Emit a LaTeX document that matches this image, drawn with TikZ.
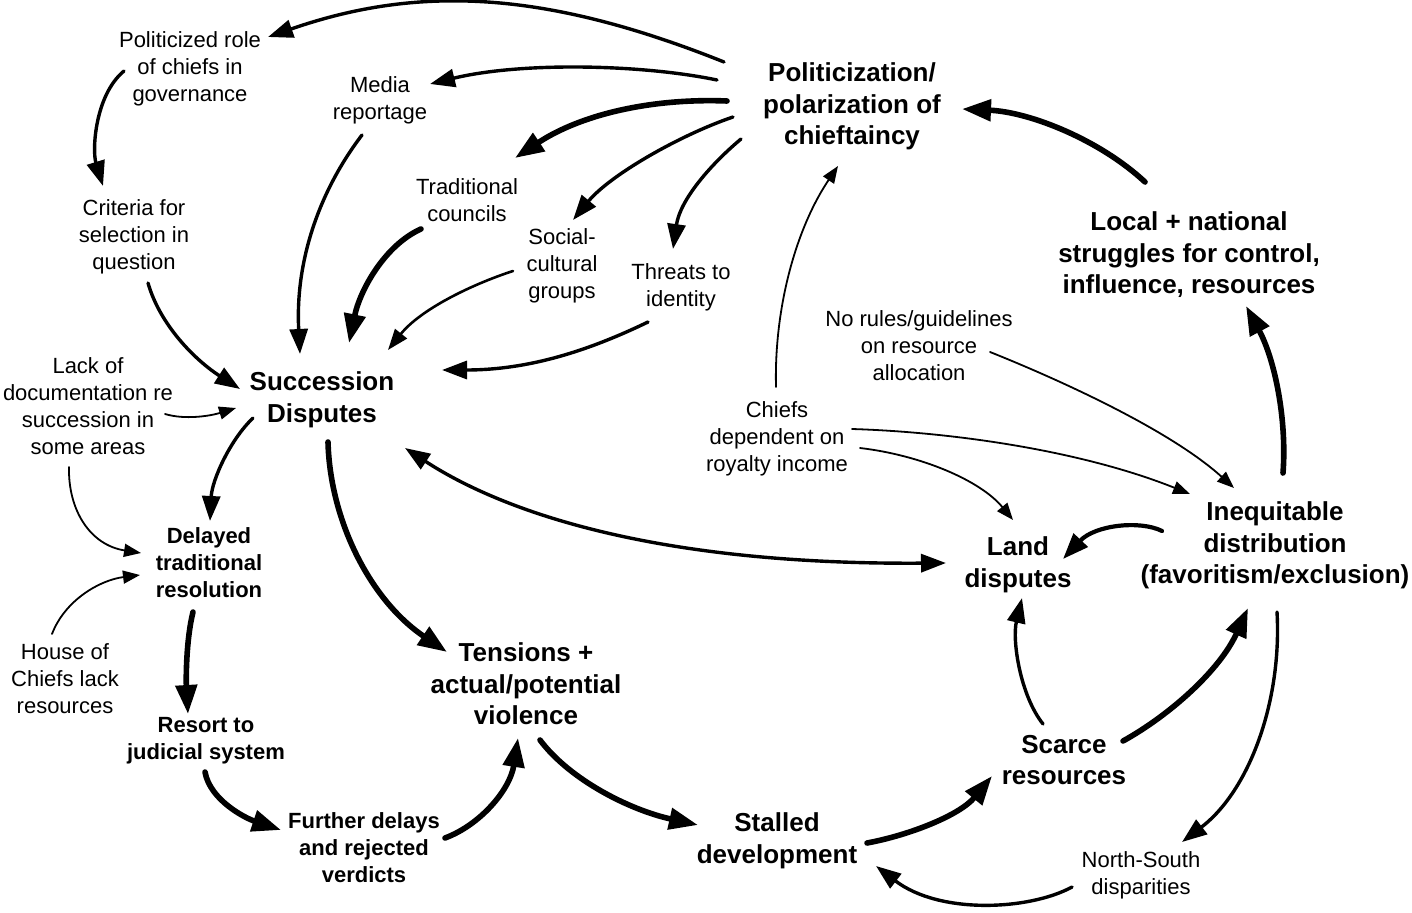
\documentclass[tikz,border=0pt]{standalone}
\usepackage{fontspec}
\setmainfont{Liberation Sans}
\usetikzlibrary{arrows.meta}
\tikzset{
  lbl/.style={align=center, inner sep=0pt, text depth=0pt, font=\fontsize{22}{27}\selectfont},
  bbig/.style={align=center, inner sep=0pt, text depth=0pt, font=\fontsize{26}{31.5}\selectfont\bfseries},
  bmid/.style={align=center, inner sep=0pt, text depth=0pt, font=\fontsize{22}{27}\selectfont\bfseries},
  cthin/.style={line width=1.8pt, line cap=round, -{Triangle[length=17pt,width=13pt]}},
  cmedthin/.style={line width=2.6pt, line cap=round, -{Triangle[length=21pt,width=15pt]}},
  cmed/.style={line width=3.4pt, line cap=round, -{Triangle[length=25pt,width=18pt]}},
  cmedthick/.style={line width=4.2pt, line cap=round, -{Triangle[length=26pt,width=19pt]}},
  cthick/.style={line width=5.6pt, line cap=round, -{Triangle[length=29pt,width=21pt]}},
}
\begin{document}
\begin{tikzpicture}[x=1pt,y=-1pt]
\fill[white] (0,0) rectangle (1412,912);
\useasboundingbox (0,0) rectangle (1412,912);

% nodes
\node[lbl] (polrole) at (190,67) {Politicized role\\of chiefs in\\governance};
\node[lbl] (media) at (380,98) {Media\\reportage};
\node[bbig] (pol) at (852,104) {Politicization/\\polarization of\\chieftaincy};
\node[lbl] (trad) at (467,200) {Traditional\\councils};
\node[lbl] (social) at (562,264) {Social-\\cultural\\groups};
\node[lbl] (threat) at (681,285) {Threats to\\identity};
\node[lbl] (criteria) at (134,235) {Criteria for\\selection in\\question};
\node[bbig] (succ) at (322,397) {Succession\\Disputes};
\node[lbl] (lack) at (88,406) {Lack of\\documentation re\\succession in\\some areas};
\node[bmid] (delayed) at (209,563) {Delayed\\traditional\\resolution};
\node[lbl] (house) at (65,679) {House of\\Chiefs lack\\resources};
\node[bmid] (resort) at (206,738) {Resort to\\judicial system};
\node[bmid] (further) at (364,848) {Further delays\\and rejected\\verdicts};
\node[bbig] (tension) at (526,684) {Tensions +\\actual/potential\\violence};
\node[bbig] (stalled) at (777,838) {Stalled\\development};
\node[bbig] (scarce) at (1064,760) {Scarce\\resources};
\node[lbl] (ns) at (1141,873) {North-South\\disparities};
\node[bbig] (land) at (1018,562) {Land\\disputes};
\node[bbig] (ineq) at (1275,543) {Inequitable\\distribution\\(favoritism/exclusion)};
\node[bbig] (local) at (1189,253) {Local + national\\struggles for control,\\influence, resources};
\node[lbl] (norules) at (919,346) {No rules/guidelines\\on resource\\allocation};
\node[lbl] (chiefs) at (777,437) {Chiefs\\dependent on\\royalty income};

% connectors from Politicization
\draw[cmed] ([shift={(-128,-42)}]pol.center) .. controls (544,-10) and (418,-15) .. ([shift={(78,-30)}]polrole.center);
\draw[cmed] ([shift={(-135,-24)}]pol.center) .. controls (640,64) and (520,62) .. ([shift={(50,-14)}]media.center);
\draw[cthick] ([shift={(-125,-3)}]pol.center) .. controls (650,98) and (580,115) .. ([shift={(48,-42)}]trad.center);
\draw[cmed] ([shift={(-119,13)}]pol.center) .. controls (680,135) and (610,175) .. ([shift={(11,-44)}]social.center);
\draw[cmed] ([shift={(-111,35)}]pol.center) .. controls (710,165) and (680,200) .. ([shift={(-8,-36)}]threat.center);

% left upper chain
\draw[cmed] ([shift={(-66,4)}]polrole.center) .. controls (95,95) and (92,150) .. ([shift={(-31,-49)}]criteria.center);
\draw[cmed] ([shift={(-18,37)}]media.center) .. controls (320,190) and (295,260) .. ([shift={(-22,-43)}]succ.center);
\draw[cthick] ([shift={(-46,29)}]trad.center) .. controls (385,245) and (360,290) .. ([shift={(27,-54)}]succ.center);
\draw[cmedthin] ([shift={(-49,7)}]social.center) .. controls (470,285) and (420,310) .. ([shift={(66,-47)}]succ.center);
\draw[cmed] ([shift={(-33,37)}]threat.center) .. controls (590,350) and (530,370) .. ([shift={(120,-27)}]succ.center);
\draw[cmed] ([shift={(14,48)}]criteria.center) .. controls (160,325) and (195,360) .. ([shift={(-82,-8)}]succ.center);
\draw[cthin] ([shift={(77,8)}]lack.center) .. controls (185,420) and (210,416) .. ([shift={(-86,11)}]succ.center);

% left lower chain
\draw[cmed] ([shift={(-69,21)}]succ.center) .. controls (230,440) and (212,480) .. ([shift={(1,-42)}]delayed.center);
\draw[cthin] ([shift={(-19,61)}]lack.center) .. controls (68,510) and (90,545) .. ([shift={(-68,-10)}]delayed.center);
\draw[cthin] ([shift={(-13,-45)}]house.center) .. controls (65,600) and (100,580) .. ([shift={(-69,12)}]delayed.center);
\draw[cthick] ([shift={(-16,49)}]delayed.center) .. controls (186,640) and (186,680) .. ([shift={(-18,-24)}]resort.center);
\draw[cthick] ([shift={(-1,34)}]resort.center) .. controls (210,800) and (245,818) .. ([shift={(-83,-18)}]further.center);
\draw[cthick] ([shift={(81,-10)}]further.center) .. controls (480,825) and (510,790) .. ([shift={(-8,54)}]tension.center);
\draw[cthick] ([shift={(6,45)}]succ.center) .. controls (330,520) and (370,600) .. ([shift={(-79,-32)}]tension.center);

% succession <-> land
\draw[line width=3.4pt, line cap=round, {Triangle[length=25pt,width=18pt]}-{Triangle[length=25pt,width=18pt]}]
  ([shift={(83,51)}]succ.center) .. controls (500,510) and (650,565) .. ([shift={(-72,1)}]land.center);

% bottom
\draw[cthick] ([shift={(14,56)}]tension.center) .. controls (570,780) and (630,810) .. ([shift={(-79,-13)}]stalled.center);
\draw[cthick] ([shift={(90,5)}]stalled.center) .. controls (910,835) and (960,815) .. ([shift={(-72,16)}]scarce.center);
\draw[cmed] ([shift={(-69,14)}]ns.center) .. controls (1030,910) and (940,915) .. ([shift={(99,28)}]stalled.center);

% right side
\draw[cmed] ([shift={(-21,-36)}]scarce.center) .. controls (1020,695) and (1012,640) .. ([shift={(4,36)}]land.center);
\draw[cthick] ([shift={(59,-19)}]scarce.center) .. controls (1170,715) and (1220,670) .. ([shift={(-27,65)}]ineq.center);
\draw[cmed] ([shift={(2,69)}]ineq.center) .. controls (1282,700) and (1250,790) .. ([shift={(41,-31)}]ns.center);
\draw[cmedthick] ([shift={(-113,-12)}]ineq.center) .. controls (1140,520) and (1095,525) .. ([shift={(45,-3)}]land.center);
\draw[cthick] ([shift={(8,-70)}]ineq.center) .. controls (1287,420) and (1275,360) .. ([shift={(57,53)}]local.center);
\draw[cthick] ([shift={(-44,-71)}]local.center) .. controls (1100,140) and (1030,112) .. ([shift={(110,5)}]pol.center);

% thin middle connectors
\draw[cthin] ([shift={(-1,-50)}]chiefs.center) .. controls (774,310) and (795,230) .. ([shift={(-14,62)}]pol.center);
\draw[cthin] ([shift={(71,6)}]norules.center) .. controls (1060,380) and (1170,430) .. ([shift={(-41,-55)}]ineq.center);
\draw[cthin] ([shift={(75,-8)}]chiefs.center) .. controls (950,432) and (1080,450) .. ([shift={(-85,-49)}]ineq.center);
\draw[cthin] ([shift={(83,11)}]chiefs.center) .. controls (920,455) and (980,480) .. ([shift={(-5,-42)}]land.center);
\end{tikzpicture}
\end{document}
